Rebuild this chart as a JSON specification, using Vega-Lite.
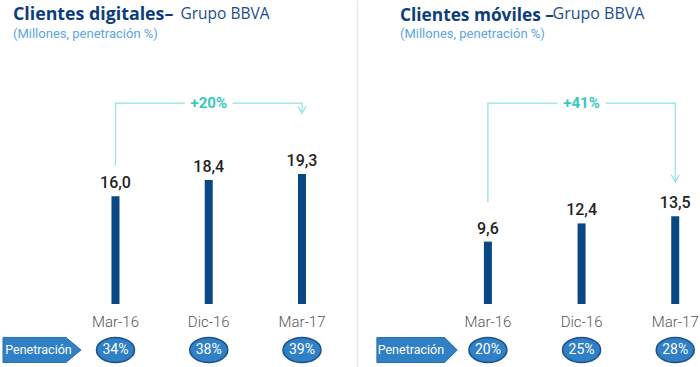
{
  "$schema": "https://vega.github.io/schema/vega-lite/v6.json",
  "padding": 0,
  "spacing": 0,
  "background": "white",
  "config": {
    "view": {"stroke": null},
    "font": "Roboto",
    "locale": {"number": {"decimal": ",", "thousands": ".", "grouping": [3], "currency": ["", " €"]}},
    "axisY": {"domain": false, "ticks": false, "labels": false, "grid": false, "minExtent": 0, "titleY": 18.5, "titleAngle": 0, "titleAlign": "left", "titleBaseline": "alphabetic", "titleFontWeight": "normal", "titleColor": "#1e4d8b", "titleFont": "Open Sans", "domainColor": "#e6e6e6", "domainWidth": 1.5}
  },
  "datasets": {
    "dig": [
      {"periodo": "Mar-16", "clientes": 16.0, "pen": "34%"},
      {"periodo": "Dic-16", "clientes": 18.4, "pen": "38%"},
      {"periodo": "Mar-17", "clientes": 19.3, "pen": "39%"}
    ],
    "mov": [
      {"periodo": "Mar-16", "clientes": 9.6, "pen": "20%"},
      {"periodo": "Dic-16", "clientes": 12.4, "pen": "25%"},
      {"periodo": "Mar-17", "clientes": 13.5, "pen": "28%"}
    ],
    "digLink": [
      {"periodo": "Mar-16", "nivel": 20.5, "orden": 1},
      {"periodo": "Mar-16", "nivel": 29.8, "orden": 2},
      {"periodo": "Mar-17", "nivel": 29.8, "orden": 3},
      {"periodo": "Mar-17", "nivel": 28.3, "orden": 4}
    ],
    "movLink": [
      {"periodo": "Mar-16", "nivel": 15.6, "orden": 1},
      {"periodo": "Mar-16", "nivel": 30.9, "orden": 2},
      {"periodo": "Mar-17", "nivel": 30.9, "orden": 3},
      {"periodo": "Mar-17", "nivel": 18.8, "orden": 4}
    ],
    "digGrowth": [{"periodo": "Dic-16", "nivel": 29.8, "texto": "+20%"}],
    "movGrowth": [{"periodo": "Dic-16", "nivel": 30.9, "texto": "+41%"}],
    "etiqueta": [{"texto": "Penetración"}]
  },
  "hconcat": [
    {
      "width": 354,
      "height": 367,
      "title": {"text": "Clientes digitales–", "subtitle": "(Millones, penetración %)", "anchor": "start", "frame": "group", "dx": 10, "offset": -41, "fontSize": 17.8, "fontWeight": "bold", "color": "#0d3c7c", "subtitleFontSize": 13, "subtitleColor": "#5aa6e0", "subtitlePadding": 4, "font": "Open Sans", "subtitleFont": "Roboto"},
      "layer": [
        {
          "data": {"name": "digLink"},
          "mark": {"type": "line", "color": "#8fe2dd", "strokeWidth": 1.2},
          "encoding": {
            "x": {"field": "periodo", "type": "ordinal", "scale": {"type": "point", "domain": ["Mar-16", "Dic-16", "Mar-17"], "padding": 0.898, "align": 0.6716}, "axis": null},
            "y": {"field": "nivel", "type": "quantitative", "scale": {"domain": [-9.35, 45.1], "nice": false, "zero": false}, "axis": {"title": "Grupo BBVA", "titleX": 177, "titleFontSize": 15.5}},
            "order": {"field": "orden", "type": "quantitative"}
          }
        },
        {
          "data": {"name": "digGrowth"},
          "mark": {"type": "point", "shape": "M-2.4,-0.6H2.4V0.6H-2.4Z", "size": 400, "filled": true, "color": "white", "opacity": 1, "strokeWidth": 0},
          "encoding": {
            "x": {"field": "periodo", "type": "ordinal", "axis": null},
            "y": {"field": "nivel", "type": "quantitative", "axis": {"title": "Grupo BBVA", "titleX": 177, "titleFontSize": 15.5}}
          }
        },
        {
          "data": {"name": "digGrowth"},
          "mark": {"type": "text", "fontSize": 15, "fontWeight": "bold", "color": "#38c8bf", "baseline": "middle"},
          "encoding": {
            "x": {"field": "periodo", "type": "ordinal", "axis": null},
            "y": {"field": "nivel", "type": "quantitative", "axis": {"title": "Grupo BBVA", "titleX": 177, "titleFontSize": 15.5}},
            "text": {"field": "texto"}
          }
        },
        {
          "data": {"name": "digLink"},
          "transform": [{"filter": "datum.orden == 4"}],
          "mark": {"type": "point", "shape": "M-0.4,-0.7L0,0L0.4,-0.7", "size": 400, "filled": false, "stroke": "#8fe2dd", "strokeWidth": 1.2, "opacity": 1},
          "encoding": {
            "x": {"field": "periodo", "type": "ordinal", "axis": null},
            "y": {"field": "nivel", "type": "quantitative", "axis": {"title": "Grupo BBVA", "titleX": 177, "titleFontSize": 15.5}}
          }
        },
        {
          "data": {"name": "dig"},
          "mark": {"type": "bar", "size": 8, "color": "#0a4785"},
          "encoding": {
            "x": {"field": "periodo", "type": "ordinal", "axis": null},
            "y": {"field": "clientes", "type": "quantitative", "axis": {"title": "Grupo BBVA", "titleX": 177, "titleFontSize": 15.5}}
          }
        },
        {
          "data": {"name": "dig"},
          "mark": {"type": "text", "dy": -13, "fontSize": 16, "fontWeight": 500, "color": "#1f1f1f", "baseline": "middle"},
          "encoding": {
            "x": {"field": "periodo", "type": "ordinal", "axis": null},
            "y": {"field": "clientes", "type": "quantitative", "axis": {"title": "Grupo BBVA", "titleX": 177, "titleFontSize": 15.5}},
            "text": {"field": "clientes", "type": "quantitative", "format": ".1f"}
          }
        },
        {
          "data": {"name": "dig"},
          "mark": {"type": "text", "fontSize": 15, "fontWeight": 300, "color": "#555555", "baseline": "middle"},
          "encoding": {
            "x": {"field": "periodo", "type": "ordinal", "axis": null},
            "y": {"datum": -2.67, "axis": {"title": "Grupo BBVA", "titleX": 177, "titleFontSize": 15.5}},
            "text": {"field": "periodo"}
          }
        },
        {
          "data": {"name": "dig"},
          "mark": {"type": "point", "shape": "M-1.9,0A1.9,1.25,0,1,0,1.9,0A1.9,1.25,0,1,0,-1.9,0Z", "size": 400, "filled": true, "fill": "#2f80c5", "stroke": "#1c4f8c", "strokeWidth": 1.5, "opacity": 1},
          "encoding": {
            "x": {"field": "periodo", "type": "ordinal", "axis": null},
            "y": {"datum": -6.82, "axis": {"title": "Grupo BBVA", "titleX": 177, "titleFontSize": 15.5}}
          }
        },
        {
          "data": {"name": "dig"},
          "mark": {"type": "text", "fontSize": 14, "color": "white", "baseline": "middle"},
          "encoding": {
            "x": {"field": "periodo", "type": "ordinal", "axis": null},
            "y": {"datum": -6.82, "axis": {"title": "Grupo BBVA", "titleX": 177, "titleFontSize": 15.5}},
            "text": {"field": "pen"}
          }
        },
        {
          "data": {"name": "etiqueta"},
          "mark": {"type": "point", "shape": "M-11.25,-1.25H-4.95L-3.45,0L-4.95,1.25H-11.25Z", "size": 400, "filled": true, "fill": "#2f80c5", "stroke": "#2a6fb0", "strokeWidth": 1, "opacity": 1},
          "encoding": {
            "x": {"datum": "Mar-16", "type": "ordinal", "axis": null},
            "y": {"datum": -6.82, "axis": {"title": "Grupo BBVA", "titleX": 177, "titleFontSize": 15.5}}
          }
        },
        {
          "data": {"name": "etiqueta"},
          "mark": {"type": "text", "fontSize": 12.5, "color": "white", "baseline": "middle", "dx": -77},
          "encoding": {
            "x": {"datum": "Mar-16", "type": "ordinal", "axis": null},
            "y": {"datum": -6.82, "axis": {"title": "Grupo BBVA", "titleX": 177, "titleFontSize": 15.5}},
            "text": {"field": "texto"}
          }
        }
      ]
    },
    {
      "width": 346,
      "height": 367,
      "title": {"text": "Clientes móviles –", "subtitle": "(Millones, penetración %)", "anchor": "start", "frame": "group", "dx": 43, "offset": -41, "fontSize": 17.3, "fontWeight": "bold", "color": "#0d3c7c", "subtitleFontSize": 13, "subtitleColor": "#5aa6e0", "subtitlePadding": 4, "font": "Open Sans", "subtitleFont": "Roboto"},
      "layer": [
        {
          "data": {"name": "movLink"},
          "mark": {"type": "line", "color": "#8fe2dd", "strokeWidth": 1.2},
          "encoding": {
            "x": {"field": "periodo", "type": "ordinal", "scale": {"type": "point", "domain": ["Mar-16", "Dic-16", "Mar-17"], "padding": 0.847, "align": 0.825}, "axis": null},
            "y": {"field": "nivel", "type": "quantitative", "scale": {"domain": [-9.69, 46.77], "nice": false, "zero": false}, "axis": {"title": "Grupo BBVA", "titleX": 195, "titleFontSize": 16, "domain": true}},
            "order": {"field": "orden", "type": "quantitative"}
          }
        },
        {
          "data": {"name": "movGrowth"},
          "mark": {"type": "point", "shape": "M-2.4,-0.6H2.4V0.6H-2.4Z", "size": 400, "filled": true, "color": "white", "opacity": 1, "strokeWidth": 0},
          "encoding": {
            "x": {"field": "periodo", "type": "ordinal", "axis": null},
            "y": {"field": "nivel", "type": "quantitative", "axis": {"title": "Grupo BBVA", "titleX": 195, "titleFontSize": 16, "domain": true}}
          }
        },
        {
          "data": {"name": "movGrowth"},
          "mark": {"type": "text", "fontSize": 15, "fontWeight": "bold", "color": "#38c8bf", "baseline": "middle"},
          "encoding": {
            "x": {"field": "periodo", "type": "ordinal", "axis": null},
            "y": {"field": "nivel", "type": "quantitative", "axis": {"title": "Grupo BBVA", "titleX": 195, "titleFontSize": 16, "domain": true}},
            "text": {"field": "texto"}
          }
        },
        {
          "data": {"name": "movLink"},
          "transform": [{"filter": "datum.orden == 4"}],
          "mark": {"type": "point", "shape": "M-0.4,-0.7L0,0L0.4,-0.7", "size": 400, "filled": false, "stroke": "#8fe2dd", "strokeWidth": 1.2, "opacity": 1},
          "encoding": {
            "x": {"field": "periodo", "type": "ordinal", "axis": null},
            "y": {"field": "nivel", "type": "quantitative", "axis": {"title": "Grupo BBVA", "titleX": 195, "titleFontSize": 16, "domain": true}}
          }
        },
        {
          "data": {"name": "mov"},
          "mark": {"type": "bar", "size": 8, "color": "#0a4785"},
          "encoding": {
            "x": {"field": "periodo", "type": "ordinal", "axis": null},
            "y": {"field": "clientes", "type": "quantitative", "axis": {"title": "Grupo BBVA", "titleX": 195, "titleFontSize": 16, "domain": true}}
          }
        },
        {
          "data": {"name": "mov"},
          "mark": {"type": "text", "dy": -13, "fontSize": 16, "fontWeight": 500, "color": "#1f1f1f", "baseline": "middle"},
          "encoding": {
            "x": {"field": "periodo", "type": "ordinal", "axis": null},
            "y": {"field": "clientes", "type": "quantitative", "axis": {"title": "Grupo BBVA", "titleX": 195, "titleFontSize": 16, "domain": true}},
            "text": {"field": "clientes", "type": "quantitative", "format": ".1f"}
          }
        },
        {
          "data": {"name": "mov"},
          "mark": {"type": "text", "fontSize": 15, "fontWeight": 300, "color": "#555555", "baseline": "middle"},
          "encoding": {
            "x": {"field": "periodo", "type": "ordinal", "axis": null},
            "y": {"datum": -2.77, "axis": {"title": "Grupo BBVA", "titleX": 195, "titleFontSize": 16, "domain": true}},
            "text": {"field": "periodo"}
          }
        },
        {
          "data": {"name": "mov"},
          "mark": {"type": "point", "shape": "M-1.9,0A1.9,1.25,0,1,0,1.9,0A1.9,1.25,0,1,0,-1.9,0Z", "size": 400, "filled": true, "fill": "#2f80c5", "stroke": "#1c4f8c", "strokeWidth": 1.5, "opacity": 1},
          "encoding": {
            "x": {"field": "periodo", "type": "ordinal", "axis": null},
            "y": {"datum": -7.08, "axis": {"title": "Grupo BBVA", "titleX": 195, "titleFontSize": 16, "domain": true}}
          }
        },
        {
          "data": {"name": "mov"},
          "mark": {"type": "text", "fontSize": 14, "color": "white", "baseline": "middle"},
          "encoding": {
            "x": {"field": "periodo", "type": "ordinal", "axis": null},
            "y": {"datum": -7.08, "axis": {"title": "Grupo BBVA", "titleX": 195, "titleFontSize": 16, "domain": true}},
            "text": {"field": "pen"}
          }
        },
        {
          "data": {"name": "etiqueta"},
          "mark": {"type": "point", "shape": "M-11.1,-1.25H-4.33L-3.07,0L-4.33,1.25H-11.1Z", "size": 400, "filled": true, "fill": "#2f80c5", "stroke": "#2a6fb0", "strokeWidth": 1, "opacity": 1},
          "encoding": {
            "x": {"datum": "Mar-16", "type": "ordinal", "axis": null},
            "y": {"datum": -7.08, "axis": {"title": "Grupo BBVA", "titleX": 195, "titleFontSize": 16, "domain": true}}
          }
        },
        {
          "data": {"name": "etiqueta"},
          "mark": {"type": "text", "fontSize": 12.5, "color": "white", "baseline": "middle", "dx": -77},
          "encoding": {
            "x": {"datum": "Mar-16", "type": "ordinal", "axis": null},
            "y": {"datum": -7.08, "axis": {"title": "Grupo BBVA", "titleX": 195, "titleFontSize": 16, "domain": true}},
            "text": {"field": "texto"}
          }
        }
      ]
    }
  ]
}
